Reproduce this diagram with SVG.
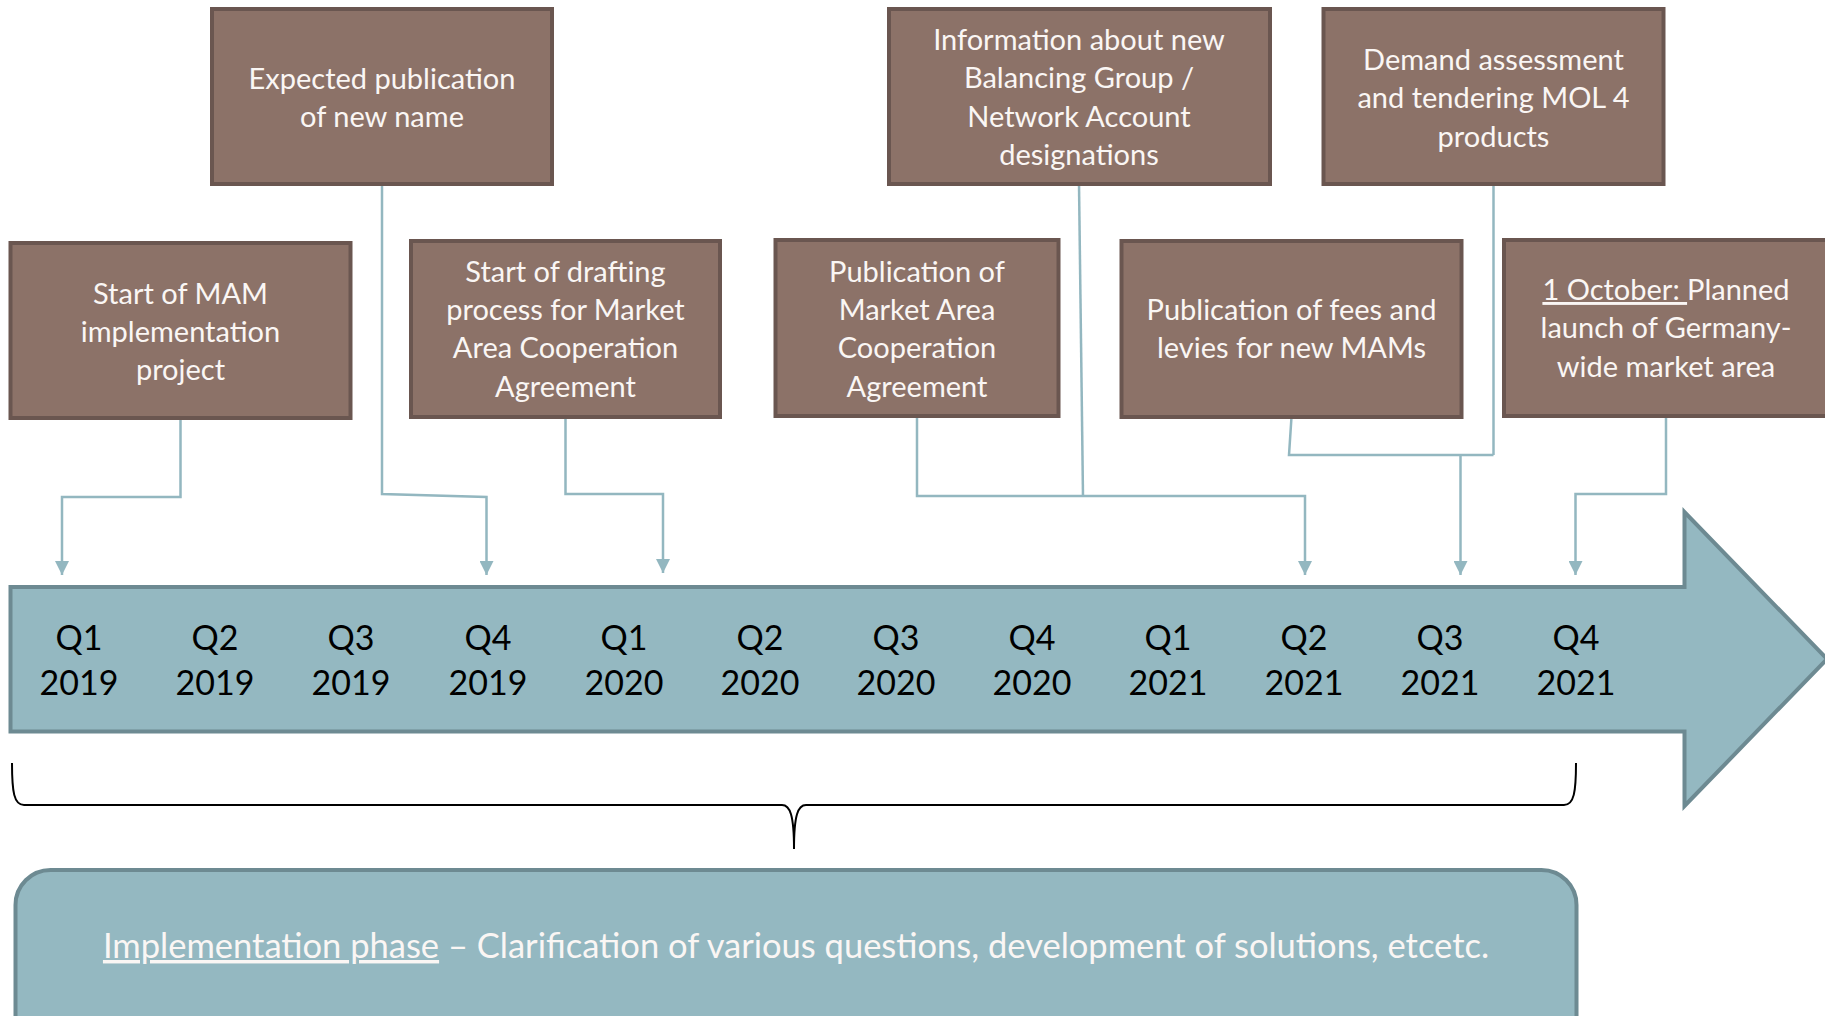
<svg xmlns="http://www.w3.org/2000/svg" width="1825" height="1016" viewBox="0 0 1825 1016">
<defs>
<style>
.box{fill:#8C7268;stroke:#6A5650;stroke-width:4}
.bt{font-family:Lato,"Liberation Sans",sans-serif;font-size:29px;fill:#FAF6F4;text-anchor:middle}
.q{font-family:Lato,"Liberation Sans",sans-serif;font-size:34px;fill:#000;text-anchor:middle}
.con{fill:none;stroke:#93B7C0;stroke-width:2.5}
.arrowc{marker-end:url(#ah)}
</style>
<marker id="ah" viewBox="0 0 10 10" refX="10" refY="5" markerUnits="userSpaceOnUse" markerWidth="15" markerHeight="14" orient="auto">
<path d="M0,0 L10,5 L0,10 z" fill="#93B7C0"/>
</marker>
</defs>
<rect width="1825" height="1016" fill="#fff"/>

<g id="timeline">
<path d="M10.5,587 H1684.5 V512 L1827,659 L1684.5,806 V731.5 H10.5 Z" fill="#94B8C1" stroke="#6D8A92" stroke-width="4"/>
<g class="q">
<text x="79" y="650">Q1</text><text x="79" y="695">2019</text>
<text x="215" y="650">Q2</text><text x="215" y="695">2019</text>
<text x="351" y="650">Q3</text><text x="351" y="695">2019</text>
<text x="488" y="650">Q4</text><text x="488" y="695">2019</text>
<text x="624" y="650">Q1</text><text x="624" y="695">2020</text>
<text x="760" y="650">Q2</text><text x="760" y="695">2020</text>
<text x="896" y="650">Q3</text><text x="896" y="695">2020</text>
<text x="1032" y="650">Q4</text><text x="1032" y="695">2020</text>
<text x="1168" y="650">Q1</text><text x="1168" y="695">2021</text>
<text x="1304" y="650">Q2</text><text x="1304" y="695">2021</text>
<text x="1440" y="650">Q3</text><text x="1440" y="695">2021</text>
<text x="1576" y="650">Q4</text><text x="1576" y="695">2021</text>
</g>
</g>

<g id="connectors">
<path class="con arrowc" d="M180.5,418 V497 H62 V575"/>
<path class="con arrowc" d="M382,184 V494 L486.5,497 V575"/>
<path class="con arrowc" d="M565.5,417 V494 H663 V573"/>
<path class="con arrowc" d="M917,416 V496 H1305 V575"/>
<path class="con" d="M1079,184 L1083,496"/>
<path class="con" d="M1291.5,417 L1289,455 H1493.5"/>
<path class="con" d="M1493.5,184 V455"/>
<path class="con arrowc" d="M1460.5,455 V575"/>
<path class="con arrowc" d="M1666,416 V494 H1575.5 V575"/>
</g>

<g id="nodeA">
<rect class="box" x="10.5" y="243" width="340" height="175"/>
<text class="bt"><tspan x="180.5" y="304">Start of MAM</tspan><tspan x="180.5" y="342">implementation</tspan><tspan x="180.5" y="380">project</tspan></text>
</g>
<g id="nodeB">
<rect class="box" x="212" y="9" width="340" height="175"/>
<text class="bt"><tspan x="382" y="89">Expected publication</tspan><tspan x="382" y="127">of new name</tspan></text>
</g>
<g id="nodeC">
<rect class="box" x="411" y="241" width="309" height="176"/>
<text class="bt"><tspan x="565.5" y="282">Start of drafting</tspan><tspan x="565.5" y="320">process for Market</tspan><tspan x="565.5" y="358">Area Cooperation</tspan><tspan x="565.5" y="397">Agreement</tspan></text>
</g>
<g id="nodeD">
<rect class="box" x="775.5" y="240" width="283" height="176"/>
<text class="bt"><tspan x="917" y="282">Publication of</tspan><tspan x="917" y="320">Market Area</tspan><tspan x="917" y="358">Cooperation</tspan><tspan x="917" y="397">Agreement</tspan></text>
</g>
<g id="nodeE">
<rect class="box" x="889" y="9" width="381" height="175"/>
<text class="bt"><tspan x="1079" y="50">Information about new</tspan><tspan x="1079" y="88">Balancing Group /</tspan><tspan x="1079" y="127">Network Account</tspan><tspan x="1079" y="165">designations</tspan></text>
</g>
<g id="nodeF">
<rect class="box" x="1121.5" y="241" width="340" height="176"/>
<text class="bt"><tspan x="1291.5" y="320">Publication of fees and</tspan><tspan x="1291.5" y="358">levies for new MAMs</tspan></text>
</g>
<g id="nodeG">
<rect class="box" x="1323.5" y="9" width="340" height="175"/>
<text class="bt"><tspan x="1493.5" y="70">Demand assessment</tspan><tspan x="1493.5" y="108">and tendering MOL 4</tspan><tspan x="1493.5" y="147">products</tspan></text>
</g>
<g id="nodeH">
<rect class="box" x="1504" y="240" width="330" height="176"/>
<text class="bt"><tspan x="1666" y="300"><tspan text-decoration="underline">1 October: </tspan>Planned</tspan><tspan x="1666" y="338">launch of Germany-</tspan><tspan x="1666" y="377">wide market area</tspan></text>
</g>

<g id="brace">
<path d="M12,763 C12,792 14,805 24,805 L782,805 C790,805 794,815 794,849 C794,815 798,805 806,805 L1564,805 C1574,805 1576,792 1576,763" fill="none" stroke="#000" stroke-width="2"/>
</g>

<g id="phase">
<rect x="15.5" y="870" width="1561" height="200" rx="35" fill="#94B8C1" stroke="#6D8A92" stroke-width="4"/>
<text x="796" y="958" font-family="Lato,'Liberation Sans',sans-serif" font-size="34.5" fill="#FAF6F4" text-anchor="middle"><tspan text-decoration="underline">Implementation phase</tspan> – Clarification of various questions, development of solutions, etcetc.</text>
</g>
</svg>
